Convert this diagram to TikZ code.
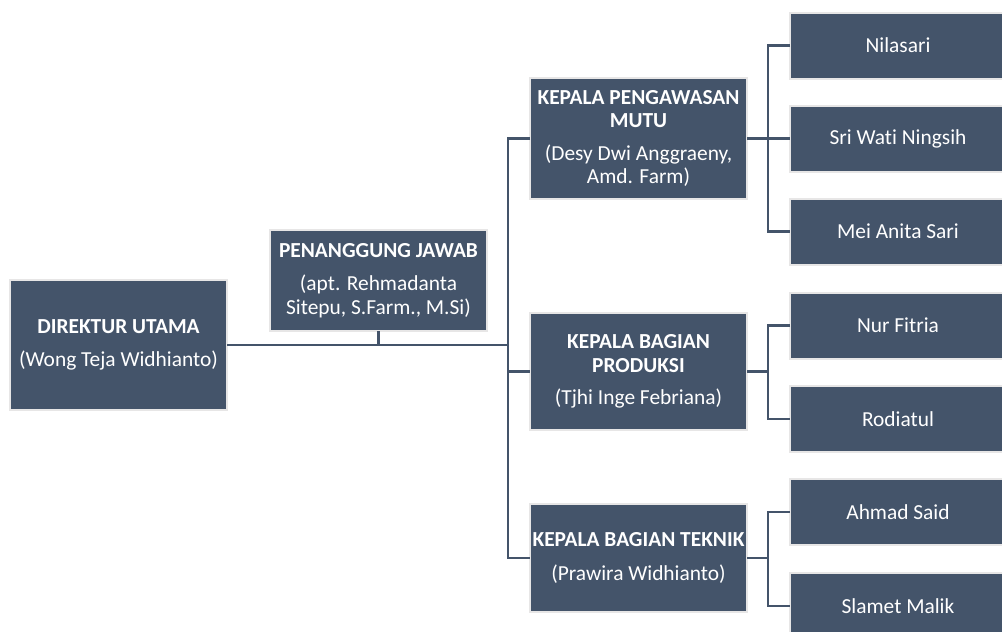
\documentclass[tikz,border=0pt]{standalone}
\usepackage{fontspec}
\setmainfont[Ligatures=NoCommon]{Carlito}
\usepackage{xcolor}
\usepackage{tikz}
\usetikzlibrary{positioning,calc}
\definecolor{boxcolor}{RGB}{68, 84, 106}
\definecolor{edgecolor}{RGB}{231, 230, 230}
\tikzset{
    org box/.style={rectangle, fill=boxcolor, draw=edgecolor, line width=2pt, outer sep=0pt, inner sep=1pt, text=white, align=center, minimum width=217pt, font=\fontsize{21.4}{23.5}\selectfont},
    head box/.style={org box},
    staff box/.style={org box, minimum width=216pt, minimum height=66pt},
    org line/.style={draw=boxcolor, line width=2.5pt}
}

\begin{document}
\begin{tikzpicture}[x=1pt,y=-1pt]
\useasboundingbox (0,0) rectangle (1002,632);
\clip (0,0) rectangle (1002,632);
\node[head box, minimum height=130pt] (dirut) at (118.5,345) {\textbf{DIREKTUR UTAMA}\\[10pt](Wong Teja Widhianto)};
\node[head box, minimum height=101pt] (pj) at (378.5,280.5) {\textbf{PENANGGUNG JAWAB}\\[10pt](apt. Rehmadanta\\Sitepu, S.Farm., M.Si)};
\node[head box, minimum height=121pt] (kpm) at (638.5,138.5) {\textbf{KEPALA PENGAWASAN}\\\textbf{MUTU}\\[9pt](Desy Dwi Anggraeny,\\Amd. Farm)};
\node[head box, minimum height=117pt] (kbp) at (638.5,371.5) {\textbf{KEPALA BAGIAN}\\\textbf{PRODUKSI}\\[9pt](Tjhi Inge Febriana)};
\node[head box, minimum height=108pt] (kbt) at (638.5,558) {\textbf{KEPALA BAGIAN TEKNIK}\\[10pt](Prawira Widhianto)};

% staf
\node[staff box] (nila) at (898,45.5) {Nilasari};
\node[staff box] (sriwati) at (898,138.5) {Sri Wati Ningsih};
\node[staff box] (mei) at (898,231.5) {Mei Anita Sari};
\node[staff box] (nur) at (898,325.5) {Nur Fitria};
\node[staff box] (rodiatul) at (898,419) {Rodiatul};
\node[staff box] (ahmad) at (898,512) {Ahmad Said};
\node[staff box] (slamet) at (898,606) {Slamet Malik};

\coordinate (trunk) at (508,345);

\draw[org line] (dirut.east) -- (trunk);
\draw[org line] (pj.south) -- (pj.south |- trunk);
\draw[org line] (kpm.west) -| (trunk) |- (kbt.west);
\draw[org line] (trunk |- kbp.west) -- (kbp.west);

\draw[org line] (kpm.east) -- ++(21,0);
\draw[org line] (nila.west) -| ([xshift=21pt]kpm.east) |- (mei.west);
\draw[org line] ([xshift=21pt]kpm.east) -- (sriwati.west);
\draw[org line] (kbp.east) -- ++(21,0);
\draw[org line] (nur.west) -| ([xshift=21pt]kbp.east) |- (rodiatul.west);
\draw[org line] (kbt.east) -- ++(21,0);
\draw[org line] (ahmad.west) -| ([xshift=21pt]kbt.east) |- (slamet.west);
\end{tikzpicture}
\end{document}
